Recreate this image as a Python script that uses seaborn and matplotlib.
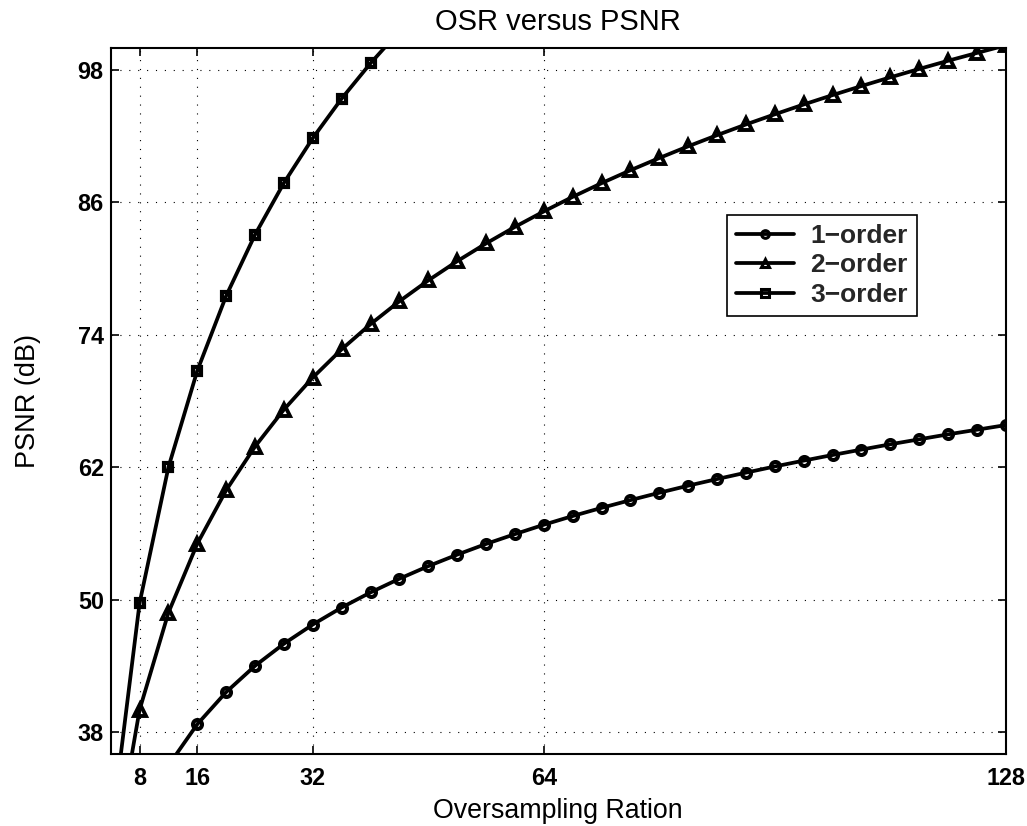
import matplotlib
matplotlib.use("Agg")
import matplotlib.pyplot as plt
import seaborn as sns
import pandas as pd

# Oversampling ratios (x) and PSNR (dB) for each modulator order
osr = [4, 8, 12, 16, 20, 24, 28, 32, 36, 40, 44, 48, 52, 56, 60, 64,
       68, 72, 76, 80, 84, 88, 92, 96, 100, 104, 108, 112, 116, 120, 124, 128]
psnr_1 = [20.67, 29.70, 34.99, 38.73, 41.64, 44.02, 46.02, 47.76, 49.30, 50.67,
          51.91, 53.05, 54.09, 55.06, 55.95, 56.80, 57.59, 58.33, 59.03, 59.70,
          60.34, 60.94, 61.52, 62.08, 62.61, 63.12, 63.61, 64.09, 64.54, 64.99,
          65.41, 65.83]
psnr_2 = [24.98, 40.03, 48.84, 55.09, 59.93, 63.89, 67.24, 70.14, 72.70, 74.98,
          77.05, 78.94, 80.68, 82.29, 83.79, 85.19, 86.51, 87.75, 88.92, 90.03,
          91.09, 92.10, 93.07, 93.99, 94.88, 95.73, 96.55, 97.34, 98.10, 98.84,
          99.55, 100.24]
psnr_3 = [28.62, 49.70, 62.02, 70.77, 77.55, 83.09, 87.78, 91.84, 95.42, 98.62,
          101.52, 104.17, 106.60, 108.85, 110.95, 112.91, 114.76, 116.49, 118.14,
          119.70, 121.18, 122.59, 123.95, 125.24, 126.48, 127.67, 128.82, 129.93,
          130.99, 132.02, 133.02, 133.98]
series_names = ["1\u2212order", "2\u2212order", "3\u2212order"]
x_ticks = [8, 16, 32, 64, 128]
y_ticks = [38, 50, 62, 74, 86, 98]

sns.set_theme(style="white")
plt.rcParams["font.family"] = ["Liberation Sans", "DejaVu Sans"]

fig = plt.figure(figsize=(10.27, 8.26), dpi=100)
ax = fig.add_axes([0.1078, 0.0868, 0.8715, 0.8551])

markers = ["o", "^", "s"]
msizes = [6.5, 8.5, 6.3]
mews = [2.9, 2.8, 3.0]
for name, vals, m, ms, mew in zip(series_names, [psnr_1, psnr_2, psnr_3],
                                   markers, msizes, mews):
    df = pd.DataFrame({"OSR": osr, "PSNR": vals})
    sns.lineplot(data=df, x="OSR", y="PSNR", ax=ax, color="black", lw=2.7,
                 marker=m, markersize=ms, markerfacecolor="none",
                 markeredgecolor="black", markeredgewidth=mew, label=name,
                 clip_on=True)

ax.set_xlim(4, 128)
ax.set_ylim(36, 100)
ax.set_xticks(x_ticks)
ax.set_yticks(y_ticks)
ax.set_xticklabels([str(t) for t in x_ticks], fontweight="bold")
ax.set_yticklabels([str(t) for t in y_ticks], fontweight="bold")
ax.tick_params(axis="both", which="both", direction="in", length=6, width=1.2,
               color="black", labelsize=16.8, top=True, right=True,
               bottom=True, left=True, labelcolor="black")
ax.tick_params(axis="x", pad=9)
ax.tick_params(axis="y", pad=5)

ax.grid(True, color="black", linestyle=(0, (1, 7)), linewidth=0.8)
for s in ax.spines.values():
    s.set_visible(True)
    s.set_color("black")
    s.set_linewidth(1.5)

ax.set_title("OSR versus PSNR", fontsize=21, pad=13, color="black")
ax.set_xlabel("Oversampling Ration", fontsize=19.3, color="black", labelpad=6)
ax.set_ylabel("PSNR (dB)", fontsize=19.5, color="black", labelpad=26)

leg = ax.legend(loc="upper left", bbox_to_anchor=(0.6886, 0.7636),
                borderaxespad=0, frameon=True, fancybox=False,
                edgecolor="black", framealpha=1, handlelength=2.2,
                handletextpad=0.6, labelspacing=0.2, borderpad=0.35,
                prop={"weight": "bold", "size": 19})
leg.get_frame().set_linewidth(1.2)
for h in leg.get_lines():
    h.set_markersize(5.5)
    h.set_markeredgewidth(2.2)

fig.savefig("out.png", dpi=100)
